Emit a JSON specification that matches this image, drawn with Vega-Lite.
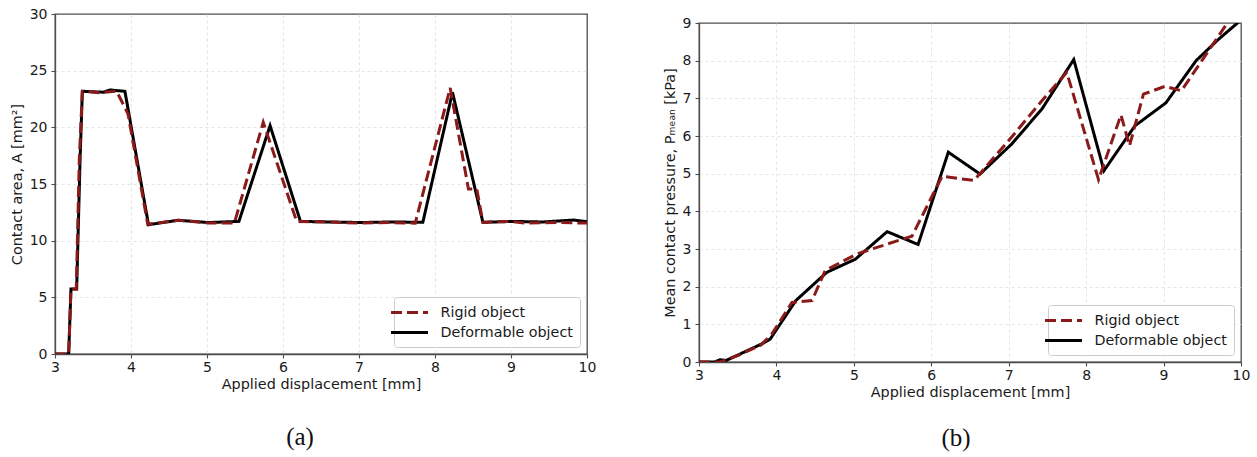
{
  "$schema": "https://vega.github.io/schema/vega-lite/v6.json",
  "autosize": {"type": "pad"},
  "padding": {"left": 8, "top": 6, "right": 0, "bottom": 0},
  "background": "white",
  "spacing": 64,
  "resolve": {
    "scale": {"color": "independent", "strokeDash": "independent"},
    "legend": {"color": "independent", "strokeDash": "independent"}
  },
  "hconcat": [
    {
      "width": 532,
      "height": 340,
      "view": {"stroke": "#4d4d4d", "strokeWidth": 1.3},
      "title": {
        "text": "(a)", "orient": "bottom", "anchor": "middle", "frame": "group",
        "font": "Liberation Serif", "fontSize": 25, "fontWeight": "normal",
        "color": "#111111", "offset": 35, "dx": -21
      },
      "data": {
        "values": [
          {"d": 3.0, "A": 0.0, "series": "Deformable object"},
          {"d": 3.18, "A": 0.0, "series": "Deformable object"},
          {"d": 3.21, "A": 5.73, "series": "Deformable object"},
          {"d": 3.285, "A": 5.73, "series": "Deformable object"},
          {"d": 3.33, "A": 17.2, "series": "Deformable object"},
          {"d": 3.36, "A": 23.18, "series": "Deformable object"},
          {"d": 3.64, "A": 23.1, "series": "Deformable object"},
          {"d": 3.72, "A": 23.3, "series": "Deformable object"},
          {"d": 3.92, "A": 23.18, "series": "Deformable object"},
          {"d": 4.23, "A": 11.41, "series": "Deformable object"},
          {"d": 4.62, "A": 11.8, "series": "Deformable object"},
          {"d": 5.02, "A": 11.6, "series": "Deformable object"},
          {"d": 5.42, "A": 11.7, "series": "Deformable object"},
          {"d": 5.83, "A": 20.15, "series": "Deformable object"},
          {"d": 6.23, "A": 11.7, "series": "Deformable object"},
          {"d": 6.62, "A": 11.65, "series": "Deformable object"},
          {"d": 7.02, "A": 11.6, "series": "Deformable object"},
          {"d": 7.42, "A": 11.65, "series": "Deformable object"},
          {"d": 7.84, "A": 11.62, "series": "Deformable object"},
          {"d": 8.23, "A": 23.09, "series": "Deformable object"},
          {"d": 8.63, "A": 11.62, "series": "Deformable object"},
          {"d": 9.02, "A": 11.7, "series": "Deformable object"},
          {"d": 9.42, "A": 11.65, "series": "Deformable object"},
          {"d": 9.82, "A": 11.82, "series": "Deformable object"},
          {"d": 10.0, "A": 11.67, "series": "Deformable object"},
          {"d": 3.0, "A": 0.0, "series": "Rigid object"},
          {"d": 3.18, "A": 0.0, "series": "Rigid object"},
          {"d": 3.21, "A": 5.73, "series": "Rigid object"},
          {"d": 3.28, "A": 5.73, "series": "Rigid object"},
          {"d": 3.32, "A": 17.2, "series": "Rigid object"},
          {"d": 3.36, "A": 23.18, "series": "Rigid object"},
          {"d": 3.6, "A": 23.05, "series": "Rigid object"},
          {"d": 3.81, "A": 23.2, "series": "Rigid object"},
          {"d": 3.96, "A": 21.2, "series": "Rigid object"},
          {"d": 4.22, "A": 11.45, "series": "Rigid object"},
          {"d": 4.62, "A": 11.8, "series": "Rigid object"},
          {"d": 5.02, "A": 11.55, "series": "Rigid object"},
          {"d": 5.36, "A": 11.55, "series": "Rigid object"},
          {"d": 5.74, "A": 20.44, "series": "Rigid object"},
          {"d": 6.18, "A": 11.7, "series": "Rigid object"},
          {"d": 6.6, "A": 11.65, "series": "Rigid object"},
          {"d": 7.0, "A": 11.55, "series": "Rigid object"},
          {"d": 7.4, "A": 11.6, "series": "Rigid object"},
          {"d": 7.74, "A": 11.55, "series": "Rigid object"},
          {"d": 8.2, "A": 23.48, "series": "Rigid object"},
          {"d": 8.44, "A": 14.56, "series": "Rigid object"},
          {"d": 8.55, "A": 14.56, "series": "Rigid object"},
          {"d": 8.63, "A": 11.62, "series": "Rigid object"},
          {"d": 9.0, "A": 11.7, "series": "Rigid object"},
          {"d": 9.2, "A": 11.55, "series": "Rigid object"},
          {"d": 9.6, "A": 11.6, "series": "Rigid object"},
          {"d": 10.0, "A": 11.55, "series": "Rigid object"}
        ]
      },
      "encoding": {
        "x": {
          "field": "d", "type": "quantitative",
          "scale": {"domain": [3, 10], "nice": false, "zero": false},
          "axis": {
            "values": [3, 4, 5, 6, 7, 8, 9, 10],
            "title": "Applied displacement [mm]",
            "gridOpacity": {"condition": {"test": "datum.value <= 3 || datum.value >= 10", "value": 0}, "value": 1}
          }
        },
        "y": {
          "field": "A", "type": "quantitative",
          "scale": {"domain": [0, 30], "nice": false},
          "axis": {
            "values": [0, 5, 10, 15, 20, 25, 30],
            "title": "Contact area, A [mm²]",
            "gridOpacity": {"condition": {"test": "datum.value <= 0 || datum.value >= 30", "value": 0}, "value": 1}
          }
        },
        "color": {
          "field": "series", "type": "nominal",
          "scale": {"domain": ["Rigid object", "Deformable object"], "range": ["#8b1a1a", "#000000"]}
        },
        "strokeDash": {
          "field": "series", "type": "nominal",
          "scale": {"domain": ["Rigid object", "Deformable object"], "range": [[11, 5], [1, 0]]}
        }
      },
      "layer": [
        {
          "transform": [{"filter": "datum.series === 'Deformable object'"}],
          "mark": {"type": "line", "strokeWidth": 3, "clip": true}
        },
        {
          "transform": [{"filter": "datum.series === 'Rigid object'"}],
          "mark": {"type": "line", "strokeWidth": 3, "clip": true}
        }
      ]
    },
    {
      "spacing": 0,
      "resolve": {
        "scale": {"color": "independent", "strokeDash": "independent"},
        "legend": {"color": "independent", "strokeDash": "independent"}
      },
      "vconcat": [
        {
          "width": 542,
          "height": 1,
          "view": {"stroke": null},
          "data": {"values": []},
          "mark": {"type": "point", "opacity": 0},
          "encoding": {}
        },
        {
          "width": 542,
          "height": 339,
          "view": {"stroke": "#4d4d4d", "strokeWidth": 1.3},
          "title": {
            "text": "(b)", "orient": "bottom", "anchor": "middle", "frame": "group",
            "font": "Liberation Serif", "fontSize": 25, "fontWeight": "normal",
            "color": "#111111", "offset": 28, "dx": -14
          },
          "data": {
            "values": [
              {"d": 3.0, "P": 0.0, "series": "Deformable object"},
              {"d": 3.2, "P": 0.0, "series": "Deformable object"},
              {"d": 3.27, "P": 0.06, "series": "Deformable object"},
              {"d": 3.35, "P": 0.04, "series": "Deformable object"},
              {"d": 3.81, "P": 0.48, "series": "Deformable object"},
              {"d": 3.92, "P": 0.61, "series": "Deformable object"},
              {"d": 4.25, "P": 1.63, "series": "Deformable object"},
              {"d": 4.65, "P": 2.38, "series": "Deformable object"},
              {"d": 5.02, "P": 2.73, "series": "Deformable object"},
              {"d": 5.43, "P": 3.46, "series": "Deformable object"},
              {"d": 5.83, "P": 3.12, "series": "Deformable object"},
              {"d": 6.22, "P": 5.57, "series": "Deformable object"},
              {"d": 6.63, "P": 4.99, "series": "Deformable object"},
              {"d": 7.04, "P": 5.79, "series": "Deformable object"},
              {"d": 7.43, "P": 6.72, "series": "Deformable object"},
              {"d": 7.84, "P": 8.03, "series": "Deformable object"},
              {"d": 8.23, "P": 5.08, "series": "Deformable object"},
              {"d": 8.63, "P": 6.27, "series": "Deformable object"},
              {"d": 9.03, "P": 6.88, "series": "Deformable object"},
              {"d": 9.42, "P": 8.0, "series": "Deformable object"},
              {"d": 9.7, "P": 8.55, "series": "Deformable object"},
              {"d": 10.0, "P": 9.08, "series": "Deformable object"},
              {"d": 3.0, "P": 0.0, "series": "Rigid object"},
              {"d": 3.27, "P": 0.0, "series": "Rigid object"},
              {"d": 3.5, "P": 0.17, "series": "Rigid object"},
              {"d": 3.8, "P": 0.45, "series": "Rigid object"},
              {"d": 3.94, "P": 0.74, "series": "Rigid object"},
              {"d": 4.2, "P": 1.58, "series": "Rigid object"},
              {"d": 4.46, "P": 1.63, "series": "Rigid object"},
              {"d": 4.63, "P": 2.43, "series": "Rigid object"},
              {"d": 5.04, "P": 2.87, "series": "Rigid object"},
              {"d": 5.43, "P": 3.13, "series": "Rigid object"},
              {"d": 5.75, "P": 3.34, "series": "Rigid object"},
              {"d": 6.14, "P": 4.93, "series": "Rigid object"},
              {"d": 6.55, "P": 4.82, "series": "Rigid object"},
              {"d": 6.98, "P": 5.83, "series": "Rigid object"},
              {"d": 7.41, "P": 6.89, "series": "Rigid object"},
              {"d": 7.75, "P": 7.69, "series": "Rigid object"},
              {"d": 8.16, "P": 4.84, "series": "Rigid object"},
              {"d": 8.45, "P": 6.56, "series": "Rigid object"},
              {"d": 8.56, "P": 5.74, "series": "Rigid object"},
              {"d": 8.74, "P": 7.11, "series": "Rigid object"},
              {"d": 9.02, "P": 7.32, "series": "Rigid object"},
              {"d": 9.23, "P": 7.2, "series": "Rigid object"},
              {"d": 9.84, "P": 9.05, "series": "Rigid object"}
            ]
          },
          "encoding": {
            "x": {
              "field": "d", "type": "quantitative",
              "scale": {"domain": [3, 10], "nice": false, "zero": false},
              "axis": {
                "values": [3, 4, 5, 6, 7, 8, 9, 10],
                "title": "Applied displacement [mm]",
                "gridOpacity": {"condition": {"test": "datum.value <= 3 || datum.value >= 10", "value": 0}, "value": 1}
              }
            },
            "y": {
              "field": "P", "type": "quantitative",
              "scale": {"domain": [0, 9], "nice": false},
              "axis": {
                "values": [0, 1, 2, 3, 4, 5, 6, 7, 8, 9],
                "title": "Mean contact pressure, Pₘₑₐₙ [kPa]",
                "gridOpacity": {"condition": {"test": "datum.value <= 0 || datum.value >= 9", "value": 0}, "value": 1}
              }
            },
            "color": {
              "field": "series", "type": "nominal",
              "scale": {"domain": ["Rigid object", "Deformable object"], "range": ["#8b1a1a", "#000000"]}
            },
            "strokeDash": {
              "field": "series", "type": "nominal",
              "scale": {"domain": ["Rigid object", "Deformable object"], "range": [[11, 5], [1, 0]]}
            }
          },
          "layer": [
            {
              "transform": [{"filter": "datum.series === 'Deformable object'"}],
              "mark": {"type": "line", "strokeWidth": 3, "clip": true}
            },
            {
              "transform": [{"filter": "datum.series === 'Rigid object'"}],
              "mark": {"type": "line", "strokeWidth": 3, "clip": true}
            }
          ]
        }
      ]
    }
  ],
  "config": {
    "font": "DejaVu Sans",
    "axis": {
      "labelFont": "DejaVu Sans",
      "labelFontSize": 14,
      "labelColor": "#1a1a1a",
      "labelFlush": false,
      "labelOverlap": false,
      "titleFont": "DejaVu Sans",
      "titleFontSize": 14.4,
      "titleFontWeight": "normal",
      "titleColor": "#1a1a1a",
      "domainColor": "#4d4d4d",
      "domainWidth": 1.3,
      "tickColor": "#4d4d4d",
      "tickSize": 4,
      "tickWidth": 1.1,
      "gridColor": "#dedede",
      "gridDash": [3, 3],
      "gridWidth": 0.8
    },
    "axisX": {"labelPadding": 2, "titlePadding": 3},
    "axisY": {"labelPadding": 4, "titlePadding": 5},
    "legend": {
      "orient": "bottom-right",
      "offset": 7,
      "title": null,
      "fillColor": "white",
      "strokeColor": "#cccccc",
      "cornerRadius": 3,
      "padding": 7,
      "labelFont": "DejaVu Sans",
      "labelFontSize": 14.3,
      "labelColor": "#1a1a1a",
      "labelOffset": 22.5,
      "symbolType": "M-2.64,0H2.64",
      "symbolSize": 196,
      "symbolStrokeWidth": 3,
      "rowPadding": 4
    }
  }
}
